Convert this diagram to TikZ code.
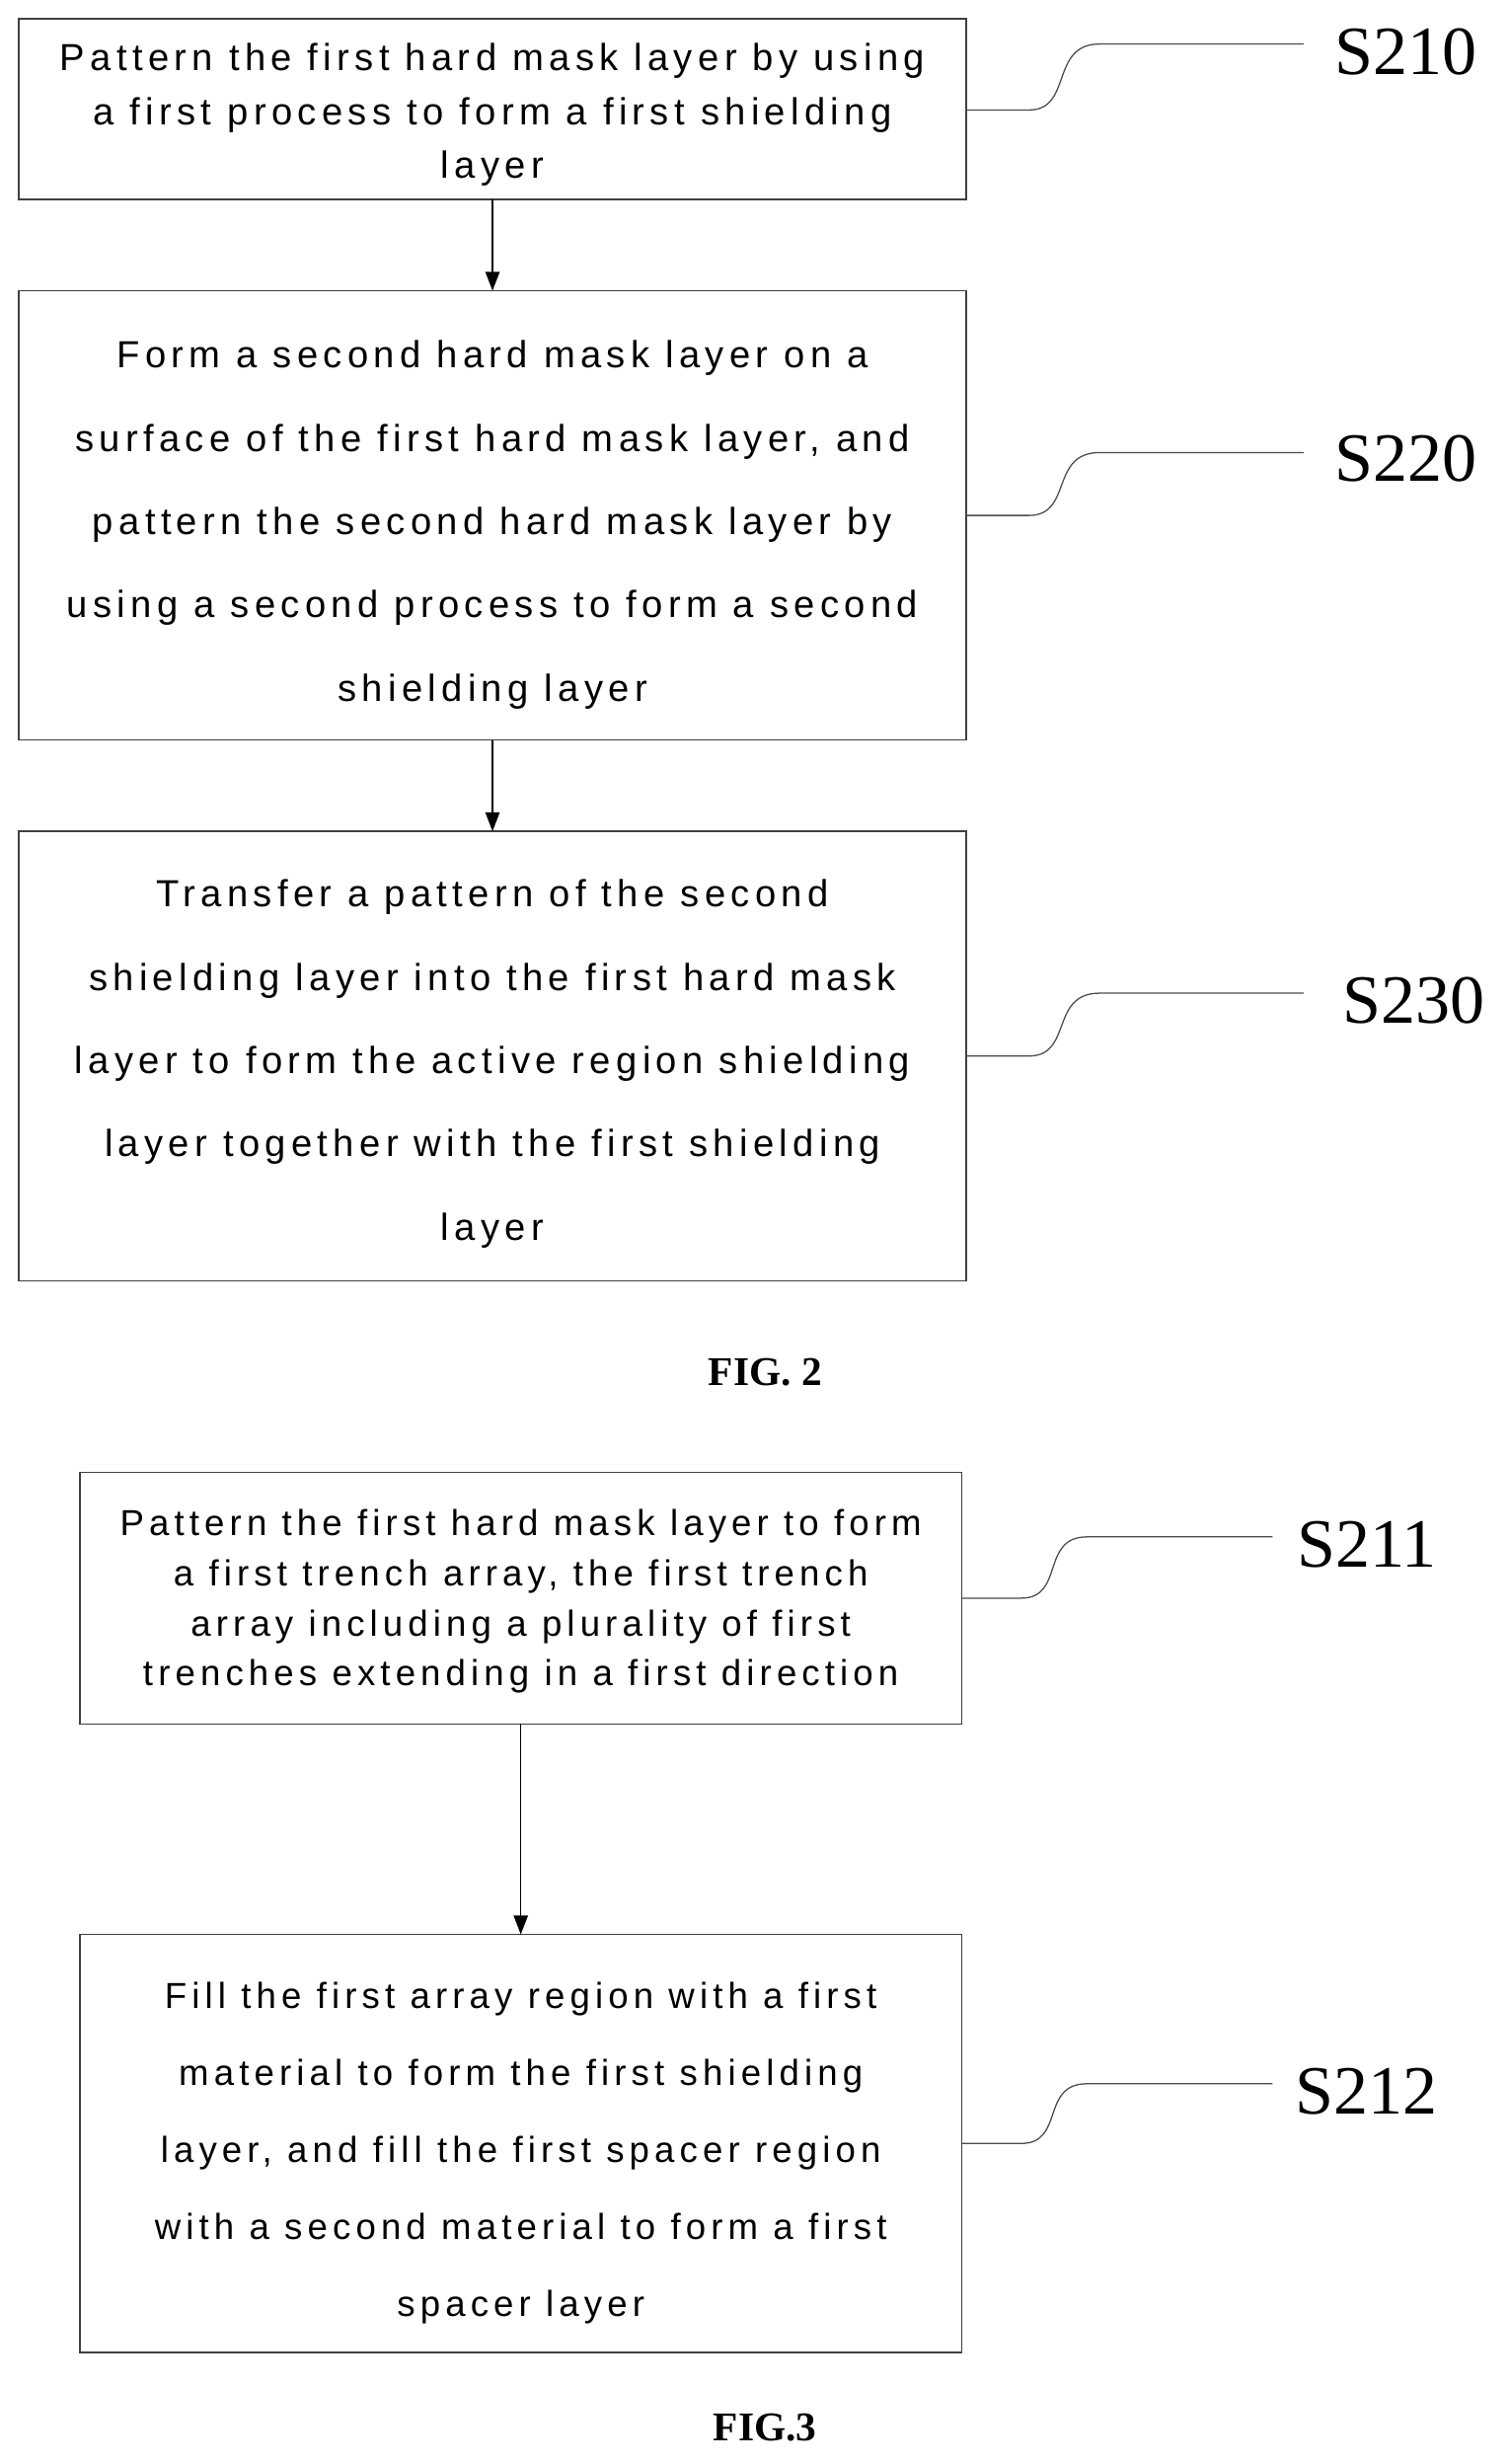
\documentclass[tikz,border=0pt]{standalone}
\usepackage{fontspec}
\setmainfont{Liberation Sans}[LetterSpace=14]
\newfontfamily\lblfont{Liberation Serif}
\usetikzlibrary{arrows.meta}
\begin{document}
\begin{tikzpicture}[x=1pt,y=-1pt,
  box/.style={draw=none,inner sep=0pt,align=center},
  frame/.style={draw=black!75,line width=0.9pt},
  lbl/.style={font=\lblfont\fontsize{44}{44}\selectfont},
  lead/.style={draw=black!70,line width=0.8pt},
  arr/.style={draw=black,line width=0.9pt,-{Triangle[length=12pt,width=9pt]}},
  fig/.style={font=\lblfont\bfseries\fontsize{26}{26}\selectfont}]
\useasboundingbox[fill=white] (0,0) rectangle (960,1568);
\node[box,minimum width=603,minimum height=115,font=\fontsize{24}{34}\selectfont] (b1) at (313.5,73)
 {Pattern the first hard mask layer by using\\ a first process to form a first shielding\\ layer};
\path[frame] (12,12) rectangle (615,127);
\node[box,minimum width=603,minimum height=286,font=\fontsize{24}{53}\selectfont] (b2) at (313.5,334)
 {Form a second hard mask layer on a\\ surface of the first hard mask layer, and\\ pattern the second hard mask layer by\\ using a second process to form a second\\ shielding layer};
\path[frame] (12,185) rectangle (615,471);
\node[box,minimum width=603,minimum height=286,font=\fontsize{24}{53}\selectfont] (b3) at (313.5,677)
 {Transfer a pattern of the second\\ shielding layer into the first hard mask\\ layer to form the active region shielding\\ layer together with the first shielding\\ layer};
\path[frame] (12,529) rectangle (615,815);
\node[fig] (f2) at (487,873) {FIG. 2};
\node[box,minimum width=561,minimum height=160,font=\fontsize{23}{32}\selectfont] (b4) at (331.5,1019)
 {Pattern the first hard mask layer to form\\ a first trench array, the first trench\\ array including a plurality of first\\ trenches extending in a first direction};
\path[frame] (51,937) rectangle (612,1097);
\node[box,minimum width=561,minimum height=266,font=\fontsize{23}{49}\selectfont] (b5) at (331.5,1370)
 {Fill the first array region with a first\\ material to form the first shielding\\ layer, and fill the first spacer region\\ with a second material to form a first\\ spacer layer};
\path[frame] (51,1231) rectangle (612,1497);
\node[fig] (f3) at (487,1545) {FIG.3};
\coordinate (a1) at (313.5,127); \coordinate (a2) at (313.5,185);
\coordinate (a3) at (313.5,471); \coordinate (a4) at (313.5,529);
\coordinate (a5) at (331.5,1097); \coordinate (a6) at (331.5,1231);
\draw[arr] (a1) -- (a2);
\draw[arr] (a3) -- (a4);
\draw[arr] (a5) -- (a6);
\node[lbl] (s1) at (895,33) {S210};
\node[lbl] (s2) at (895,292) {S220};
\node[lbl] (s3) at (900,637) {S230};
\node[lbl] (s4) at (870,983) {S211};
\node[lbl] (s5) at (870,1331) {S212};
\coordinate (e1) at (830,28); \coordinate (e2) at (830,288);
\coordinate (e3) at (830,632); \coordinate (e4) at (810,978);
\coordinate (e5) at (810,1326);
\coordinate (r1) at (615,70); \coordinate (r2) at (615,328);
\coordinate (r3) at (615,672); \coordinate (r4) at (612,1017);
\coordinate (r5) at (612,1364);
\draw[lead] (r1) -- ++(40,0) .. controls +(28,0) and (668,28) .. (700,28) -- (e1);
\draw[lead] (r2) -- ++(40,0) .. controls +(28,0) and (668,288) .. (700,288) -- (e2);
\draw[lead] (r3) -- ++(40,0) .. controls +(28,0) and (668,632) .. (700,632) -- (e3);
\draw[lead] (r4) -- ++(38,0) .. controls +(28,0) and (662,978) .. (692,978) -- (e4);
\draw[lead] (r5) -- ++(38,0) .. controls +(28,0) and (662,1326) .. (692,1326) -- (e5);
\end{tikzpicture}
\end{document}
